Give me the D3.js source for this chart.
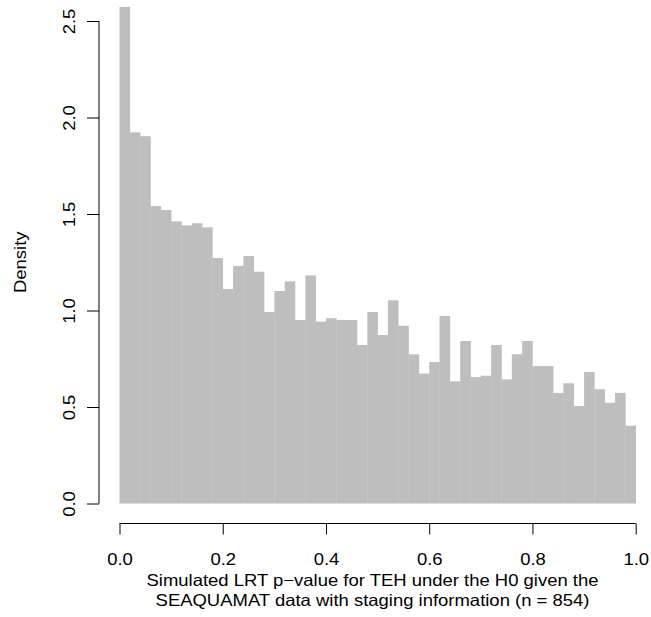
<!DOCTYPE html>
<html>
<head>
<meta charset="utf-8">
<script src="https://cdn.jsdelivr.net/npm/d3@7"></script>
<style>
  html, body { margin: 0; padding: 0; background: #fff; }
  svg text { font-family: "Liberation Sans", Arial, sans-serif; }
</style>
</head>
<body>
<svg id="chart" width="651" height="617"></svg>
<script>
// Histogram bin edges: 50 bins of width 0.02 from 0 to 1
const binStarts = d3.range(0, 50).map(i => i / 50);
const binWidth = 0.02;
// Density per bin
const densities = [
  2.573, 1.923, 1.903, 1.541, 1.521, 1.462, 1.441, 1.452, 1.431, 1.272,
  1.111, 1.231, 1.282, 1.201, 0.992, 1.101, 1.151, 0.951, 1.182, 0.942,
  0.960, 0.951, 0.951, 0.821, 0.992, 0.873, 1.053, 0.921, 0.773, 0.673,
  0.733, 0.972, 0.633, 0.842, 0.655, 0.662, 0.821, 0.643, 0.773, 0.842,
  0.712, 0.712, 0.573, 0.623, 0.505, 0.681, 0.592, 0.522, 0.573, 0.403
];
const xTicks = [0, 0.2, 0.4, 0.6, 0.8, 1.0];
const yTicks = [0, 0.5, 1.0, 1.5, 2.0, 2.5];
const xTitle = [
  "Simulated LRT p\u2212value for TEH under the H0 given the",
  "SEAQUAMAT data with staging information (n = 854)"
];
const yTitle = "Density";

const FS = 16.5, SX = 1.12;

const svg = d3.select("#chart");
const x = d3.scaleLinear().domain([0, 1]).range([119.5, 635.7]);
const y = d3.scaleLinear().domain([0, 2.5]).range([503.5, 21]);

const bins = binStarts.map((s, i) => ({ x0: s, x1: s + binWidth, d: densities[i] }));

svg.append("g").selectAll("rect").data(bins).join("rect")
  .attr("x", d => x(d.x0))
  .attr("width", d => x(d.x1) - x(d.x0) + 0.3)
  .attr("y", d => y(d.d))
  .attr("height", d => y(0) - y(d.d))
  .attr("fill", "#bebebe");

// X axis (R-style, offset below)
const xAxisY = 523.5;
const gx = svg.append("g").attr("transform", `translate(0,${xAxisY})`)
  .call(d3.axisBottom(x).tickValues(xTicks).tickFormat(d3.format(".1f")).tickSize(11).tickSizeOuter(0));
gx.select(".domain").attr("stroke", "#000").attr("d", `M${x(0)},0H${x(1)}`);
gx.selectAll(".tick line").attr("stroke", "#000");
gx.selectAll(".tick text").attr("font-size", FS).attr("fill", "#000")
  .attr("dy", null).attr("y", null)
  .attr("transform", `translate(0,41) scale(${SX},1)`);

// Y axis
const yAxisX = 99;
const gy = svg.append("g").attr("transform", `translate(${yAxisX},0)`)
  .call(d3.axisLeft(y).tickValues(yTicks).tickFormat(d3.format(".1f")).tickSize(12).tickSizeOuter(0));
gy.select(".domain").attr("stroke", "#000").attr("d", `M0,${y(0)}V${y(2.5)}`);
gy.selectAll(".tick line").attr("stroke", "#000");
gy.selectAll(".tick text").attr("font-size", FS).attr("fill", "#000")
  .attr("x", null).attr("dy", null)
  .attr("text-anchor", "middle")
  .attr("transform", `translate(-24,0) rotate(-90) scale(${SX},1)`);

// Axis titles
svg.append("g").selectAll("text").data(xTitle).join("text")
  .attr("transform", (d, i) => `translate(372.5,${585.5 + i * 20}) scale(${SX},1)`)
  .attr("text-anchor", "middle")
  .attr("font-size", FS)
  .attr("fill", "#000")
  .text(d => d);

svg.append("text")
  .attr("transform", `translate(26,${(y(0) + y(2.5)) / 2}) rotate(-90) scale(${SX},1)`)
  .attr("text-anchor", "middle")
  .attr("font-size", FS)
  .attr("fill", "#000")
  .text(yTitle);
</script>
</body>
</html>
